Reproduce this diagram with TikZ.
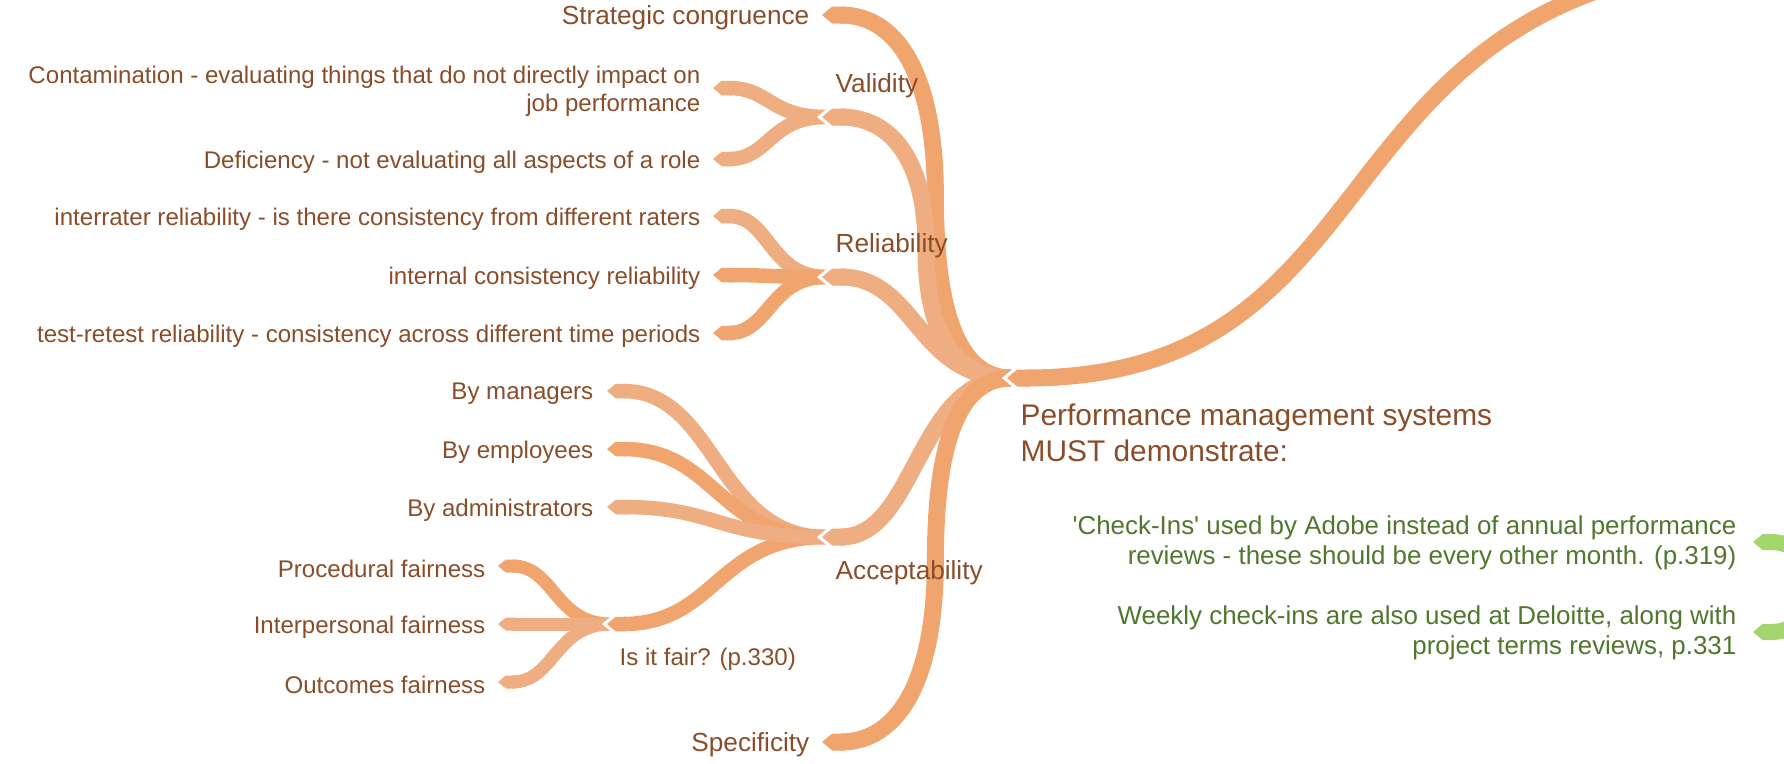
\documentclass[tikz,border=0pt]{standalone}
\usepackage{fontspec}
\setmainfont{Liberation Sans}
\usepackage{tikz}
\usetikzlibrary{arrows.meta, calc, positioning}
\usepackage{xcolor}

\definecolor{textbrown}{HTML}{8A4D2A}
\definecolor{textgreen}{HTML}{50782D}
\definecolor{lineA}{HTML}{F0A56F}
\definecolor{lineB}{HTML}{EFAE82}
\definecolor{lineG}{HTML}{A5D66E}

\tikzset{
  topic/.style={font=\fontsize{6.85}{8.1}\selectfont, text=textbrown, inner sep=0pt, align=right, anchor=east, yshift=-0.3mm},
  maintopic/.style={topic, font=\fontsize{7.45}{8.6}\selectfont},
  heading/.style={font=\fontsize{7.45}{8.6}\selectfont, text=textbrown, inner sep=0pt, anchor=west, yshift=-0.3mm},
  subheading/.style={heading, font=\fontsize{6.85}{8.1}\selectfont},
  note/.style={font=\fontsize{7.37}{8.6}\selectfont, text=textgreen, inner sep=0pt, align=right, anchor=east, yshift=-0.3mm},
  central/.style={font=\fontsize{8.5}{10.4}\selectfont, text=textbrown, inner sep=0pt, align=left, anchor=west, yshift=-0.2mm},
  tipcap/.style={{Triangle Cap[length=0pt .6]}-},
  mainline/.style={line width=1.7mm, tipcap},
  subline/.style={line width=1.45mm, tipcap},
  twigline/.style={line width=1.3mm, tipcap},
  notch/.style={draw=white, line width=#1, tipcap},
  sway/.style={to path={let \p1=(\tikztostart), \p2=(\tikztotarget), \p3=($(\p1)!.5!(\p2)$) in
    .. controls (\x3,\y1) and (\x3,\y2) .. (\tikztotarget)}},
  elbow/.style={to path={let \p1=(\tikztostart), \p2=(\tikztotarget), \p3=($(\p1)!#1!(\p2)$), \p4=($(\p1)!.5!(\p2)$) in
    .. controls ($(\p1)!.667!(\x3,\y1)$) and ($(\x3,\y4)!.667!(\x3,\y1)$) .. (\x3,\y4)
    .. controls ($(\x3,\y4)!.667!(\x3,\y2)$) and ($(\p2)!.667!(\x3,\y2)$) .. (\tikztotarget)}},
  elbow/.default=.5
}

\begin{document}
\begin{tikzpicture}[x=0.1mm, y=-0.1mm]
            \useasboundingbox (0,0) rectangle (1784,763);

            % Các điểm nối của chủ đề chính
            \coordinate (root-out) at (1011,378);
            \coordinate (root-in) at (1007,378);
            \coordinate (mapparent) at (1800,-40);

            % Các điểm nối cấp 1
            \coordinate (strat-in) at (822,15);
            \coordinate (valid-in) at (822,117);
            \coordinate (valid-out) at (826,117);
            \coordinate (relia-in) at (822,277);
            \coordinate (relia-out) at (826,277);
            \coordinate (accept-in) at (822,537);
            \coordinate (accept-out) at (826,537);
            \coordinate (spec-in) at (822,742);

            % Các điểm nối cấp 2
            \coordinate (contam-in) at (713,88);
            \coordinate (defic-in) at (713,159);
            \coordinate (inter-in) at (713,216);
            \coordinate (intern-in) at (713,275);
            \coordinate (retest-in) at (713,333);
            \coordinate (bymgr-in) at (607,391);
            \coordinate (byemp-in) at (607,449);
            \coordinate (byadm-in) at (607,507);
            \coordinate (fair-in) at (607,624);
            \coordinate (fair-out) at (611,624);

            % Các điểm nối cấp 3
            \coordinate (proc-in) at (498,566);
            \coordinate (interp-in) at (498,624);
            \coordinate (outc-in) at (498,682);

            % Nhánh xanh bên phải
            \coordinate (adobe-in) at (1753,542);
            \coordinate (deloitte-in) at (1753,632);
            \coordinate (notesparent) at (1870,587);

            % Nhánh "Is it fair?"
            \draw[twigline, lineA] (proc-in) to[sway] (fair-out);
            \draw[twigline, lineB] (interp-in) to[sway] (fair-out);
            \draw[twigline, lineB] (outc-in) to[sway] (fair-out);
            \draw[notch=2.15mm] ([xshift=-0.5mm]fair-in) -- ++(25,0);
            \draw[subline, lineA] (fair-in) to[sway] (accept-out);

            % Nhánh lá cấp 2
            \draw[subline, lineB] (bymgr-in) to[sway] (accept-out);
            \draw[subline, lineA] (byemp-in) to[sway] (accept-out);
            \draw[subline, lineB] (byadm-in) to[sway] (accept-out);
            \draw[subline, lineB] (contam-in) to[sway] (valid-out);
            \draw[subline, lineB] (defic-in) to[sway] (valid-out);
            \draw[subline, lineB] (inter-in) to[sway] (relia-out);
            \draw[subline, lineA] (intern-in) to[sway] (relia-out);
            \draw[subline, lineA] (retest-in) to[sway] (relia-out);

            % Nhánh cấp 1
            \draw[notch=2.4mm] ([xshift=-0.5mm]valid-in) -- ++(25,0);
            \draw[notch=2.4mm] ([xshift=-0.5mm]relia-in) -- ++(25,0);
            \draw[notch=2.4mm] ([xshift=-0.5mm]accept-in) -- ++(25,0);
            \draw[mainline, lineA] (strat-in) to[elbow=.6] (root-out);
            \draw[mainline, lineB] (valid-in) to[elbow=.55] (root-out);
            \draw[mainline, lineB] (relia-in) to[sway] (root-out);
            \draw[mainline, lineB] (accept-in) to[sway] (root-out);
            \draw[mainline, lineA] (spec-in) to[elbow=.6] (root-out);

            % Nhánh của chủ đề chính
            \draw[notch=2.4mm] ([xshift=-0.5mm]root-in) -- ++(25,0);
            \draw[mainline, lineA] (root-in) .. controls +(411,0) and +(-500,0) .. (mapparent);
            \draw[line width=1.6mm, tipcap, lineG] (adobe-in) to[sway] (notesparent);
            \draw[line width=1.6mm, tipcap, lineG] (deloitte-in) to[sway] (notesparent);

            % Các chữ
            \node[central] (root) at (1020,431) {Performance management systems\\MUST demonstrate:};
            \node[maintopic] (strat) at (810,15) {Strategic congruence};
            \node[heading] (valid) at (835,83) {Validity};
            \node[topic] (contam) at (701,88) {Contamination - evaluating things that do not directly impact on\\job performance};
            \node[topic] (defic) at (701,159) {Deficiency - not evaluating all aspects of a role};
            \node[heading] (relia) at (835,243) {Reliability};
            \node[topic] (inter) at (701,216) {interrater reliability - is there consistency from different raters};
            \node[topic] (intern) at (701,275) {internal consistency reliability};
            \node[topic] (retest) at (701,333) {test-retest reliability - consistency across different time periods};
            \node[heading] (accept) at (835,570) {Acceptability};
            \node[topic] (bymgr) at (594,391) {By managers};
            \node[topic] (byemp) at (594,449) {By employees};
            \node[topic] (byadm) at (594,507) {By administrators};
            \node[subheading] (fair) at (619,656) {Is it fair? (p.330)};
            \node[topic] (proc) at (486,566) {Procedural fairness};
            \node[topic] (interp) at (486,624) {Interpersonal fairness};
            \node[topic] (outc) at (486,682) {Outcomes fairness};
            \node[maintopic] (spec) at (810,742) {Specificity};
            \node[note] (adobe) at (1737,540) {\textquotesingle Check-Ins\textquotesingle{} used by Adobe instead of annual performance\\reviews - these should be every other month. (p.319)};
            \node[note] (deloitte) at (1737,630) {Weekly check-ins are also used at Deloitte, along with\\project terms reviews, p.331};

\end{tikzpicture}
\end{document}
